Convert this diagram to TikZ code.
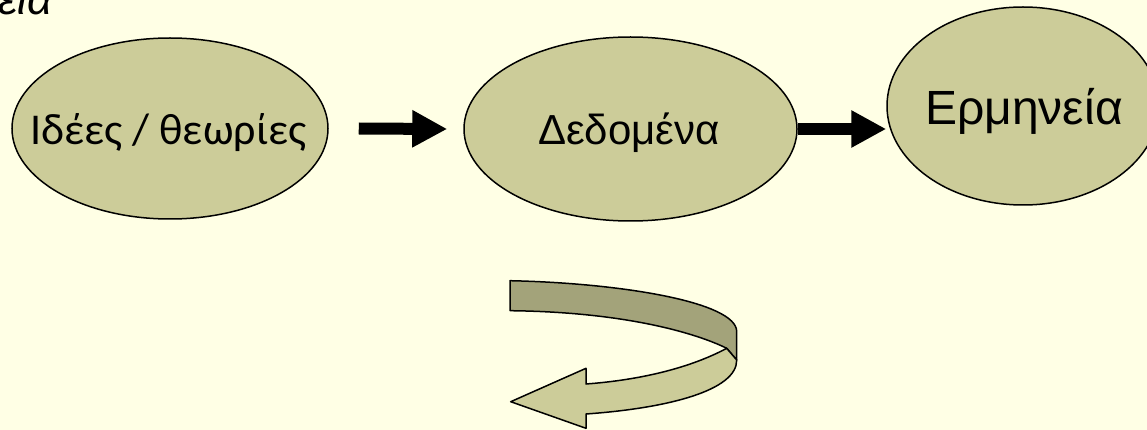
\documentclass[tikz,border=0pt]{standalone}
\usepackage{fontspec}
\setmainfont{Liberation Sans}
\newfontfamily\ideafont{Carlito}
\usetikzlibrary{shapes.geometric,arrows.meta}
\definecolor{bgyellow}{HTML}{FFFFE5}
\definecolor{olivefill}{HTML}{CCCC99}
\definecolor{olivedark}{HTML}{A3A37A}
\tikzset{
  bubble/.style={ellipse, draw=black, line width=1.5pt, fill=olivefill, inner sep=0pt},
  bubbletext/.style={anchor=base, inner sep=0pt},
  blockarrow/.style={line width=12pt, -{Triangle[length=35pt,width=35pt]}},
  band/.style={draw=black, line width=1.5pt, line join=round},
}
\begin{document}
\begin{tikzpicture}[x=1pt,y=-1pt]
\useasboundingbox (0,0) rectangle (1147,430);
\clip (0,0) rectangle (1147,430);
\fill[bgyellow] (0,0) rectangle (1147,430);
\node[anchor=base east, inner sep=0pt, font=\itshape\fontsize{44}{52}\selectfont] (titletail) at (53,15) {εία};
\node[bubble, minimum width=316, minimum height=181] (idees) at (170,128.5) {};
\node[bubble, minimum width=333, minimum height=184] (dedomena) at (630.5,129) {};
\node[bubble, minimum width=272, minimum height=198] (ermineia) at (1023,106) {};
\node[bubbletext, font=\ideafont\fontsize{44}{52}\selectfont] (ideestext) at (168.3,145) {Ιδέες / θεωρίες};
\node[bubbletext, font=\fontsize{42}{50}\selectfont] (dedomenatext) at (629,145) {Δεδομένα};
\node[bubbletext, font=\fontsize{48}{56}\selectfont] (ermineiatext) at (1024,125) {Ερμηνεία};
\draw[blockarrow] ([xshift=30]idees.east) -- ([xshift=-16]dedomena.west);
\draw[blockarrow] (dedomena.east) -- (ermineia.west |- dedomena.east);
\draw[band, fill=olivedark] (510,280.7) .. controls (620,283) and (737,302) .. (736.7,331.7) -- (736.7,360) -- (726.7,348.3) .. controls (700,335) and (630,312) .. (510,310.7) -- cycle;
\draw[band, fill=olivefill] (726.7,348.3) .. controls (690,368) and (640,380) .. (586,384) -- (586,368.3) -- (510.7,401.7) -- (586,428.3) -- (586,414) .. controls (670,408) and (737,390) .. (736.7,360) -- cycle;
\end{tikzpicture}
\end{document}
